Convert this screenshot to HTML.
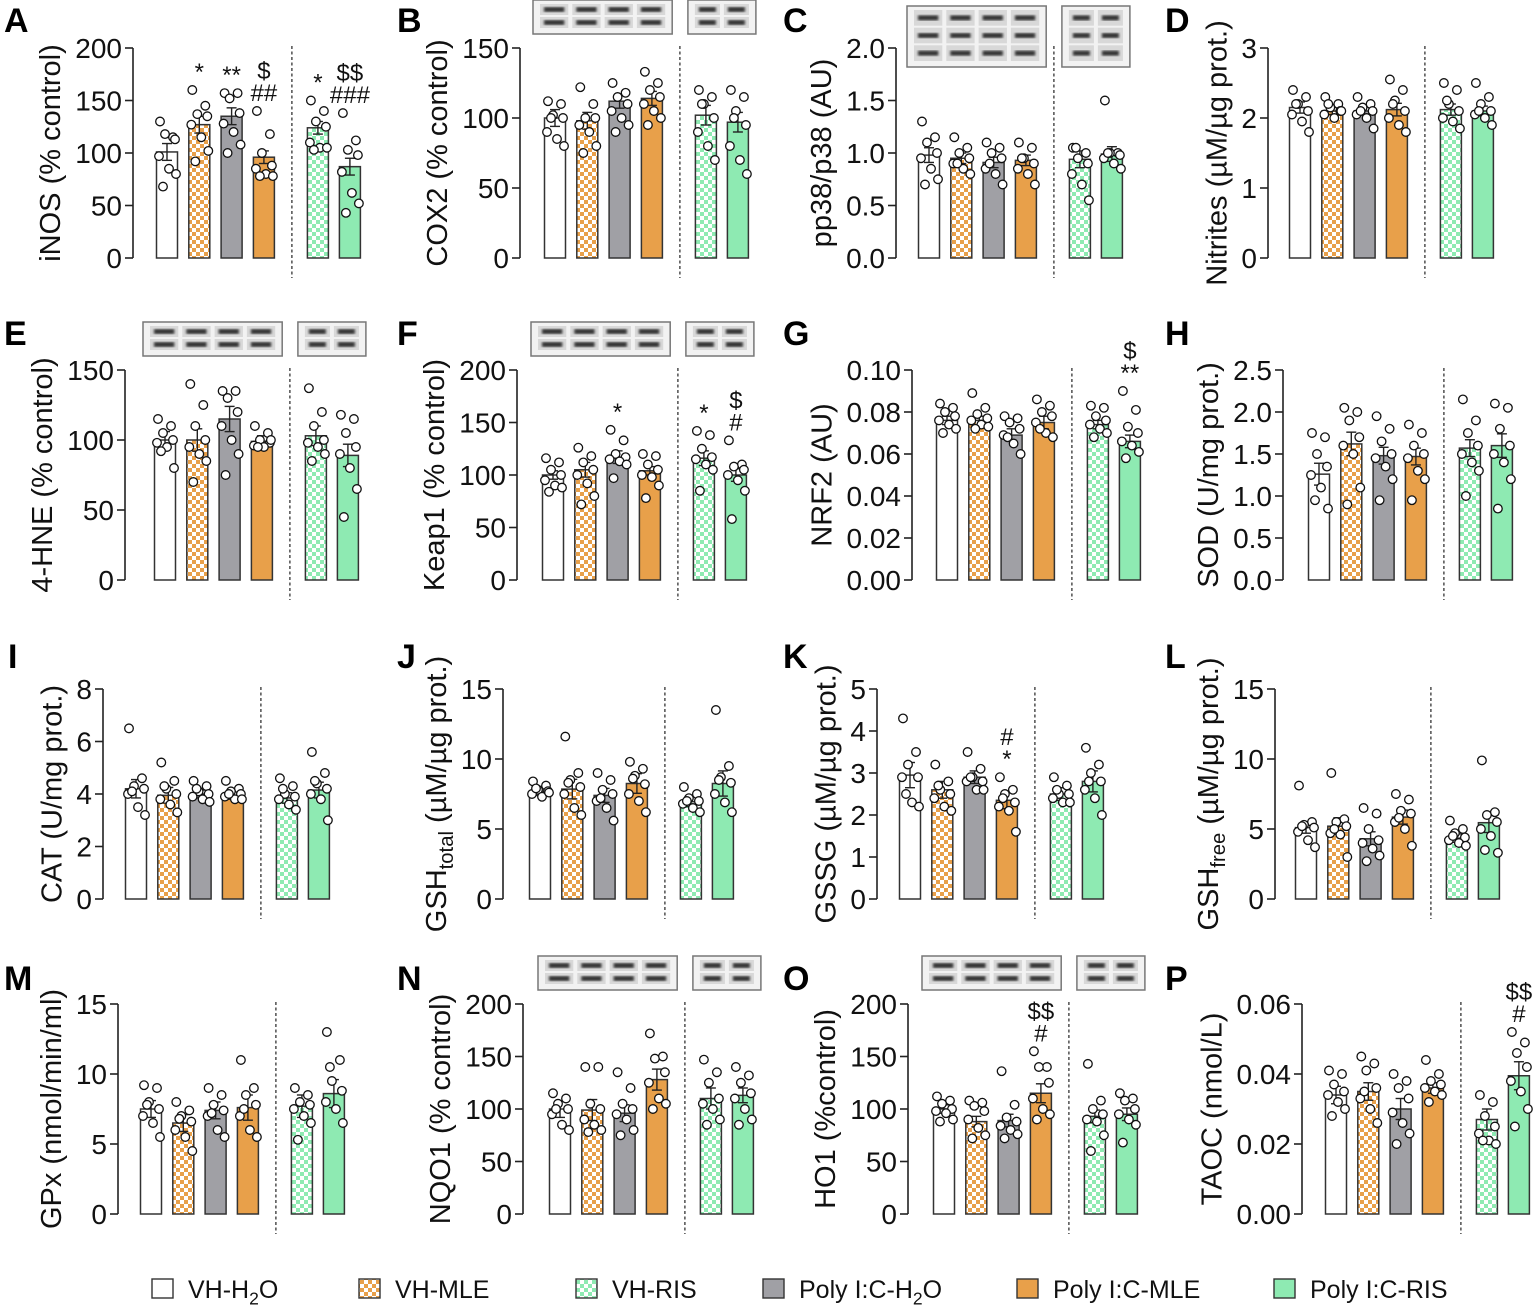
<!DOCTYPE html>
<html><head><meta charset="utf-8"><style>
html,body{margin:0;padding:0;background:#fff;}
svg{display:block;font-family:"Liberation Sans",Arial,sans-serif;}
</style></head><body>
<svg id="fig" width="1535" height="1308" viewBox="0 0 1535 1308" xmlns="http://www.w3.org/2000/svg">
<defs>
<pattern id="chkO" width="8" height="8" patternUnits="userSpaceOnUse"><rect width="8" height="8" fill="#fff"/><rect width="4" height="4" fill="#e8a04a"/><rect x="4" y="4" width="4" height="4" fill="#e8a04a"/></pattern>
<pattern id="chkG" width="8" height="8" patternUnits="userSpaceOnUse"><rect width="8" height="8" fill="#fff"/><rect width="4" height="4" fill="#8eeab2"/><rect x="4" y="4" width="4" height="4" fill="#8eeab2"/></pattern>
<filter id="blur"><feGaussianBlur stdDeviation="1.3"/></filter>
</defs>
<g id="panels"></g>
<g id="legend"></g>
</svg>
<script>
const NS='http://www.w3.org/2000/svg';
const groups=['VH-H2O','VH-MLE','Poly I:C-H2O','Poly I:C-MLE','VH-RIS','Poly I:C-RIS'];
const fills=['#ffffff','url(#chkO)','#a0a0a5','#e8a04a','url(#chkG)','#8eeab2'];

// ---- panel data ----
const letters=['A','B','C','D','E','F','G','H','I','J','K','L','M','N','O','P'];
const yLabels=['iNOS (% control)','COX2 (% control)','pp38/p38 (AU)','Nitrites (\u00b5M/\u00b5g prot.)','4-HNE (% control)','Keap1 (% control)','NRF2 (AU)','SOD (U/mg prot.)','CAT (U/mg prot.)','GSH|total| (\u00b5M/\u00b5g prot.)','GSSG (\u00b5M/\u00b5g prot.)','GSH|free| (\u00b5M/\u00b5g prot.)','GPx (nmol/min/ml)','NQO1 (% control)','HO1 (%control)','TAOC (nmol/L)'];
const tickLabels=[
['0','50','100','150','200'],['0','50','100','150'],['0.0','0.5','1.0','1.5','2.0'],['0','1','2','3'],
['0','50','100','150'],['0','50','100','150','200'],['0.00','0.02','0.04','0.06','0.08','0.10'],['0.0','0.5','1.0','1.5','2.0','2.5'],
['0','2','4','6','8'],['0','5','10','15'],['0','1','2','3','4','5'],['0','5','10','15'],
['0','5','10','15'],['0','50','100','150','200'],['0','50','100','150','200'],['0.00','0.02','0.04','0.06']];
const means=[
[101,127,135,96,124,87],[100,98,112,114,102,97],[0.98,0.95,0.91,0.93,0.94,0.99],[2.15,2.1,2.1,2.12,2.12,2.1],
[100,100,115,99,103,89],[100,105,117,104,116,100],[0.076,0.076,0.069,0.075,0.074,0.066],[1.26,1.62,1.48,1.47,1.57,1.6],
[4.2,3.95,4.0,3.95,3.85,4.15],[7.7,7.85,7.4,8.25,6.95,8.25],[2.95,2.6,2.9,2.35,2.5,2.8],[5.1,5.2,4.3,5.85,4.35,5.45],
[7.5,6.5,7.4,7.6,7.7,8.6],[100,99,96,128,110,113],[100,88,89,115,93,95],[0.034,0.035,0.030,0.036,0.027,0.0395]];
const sems=[
[8,8,8,6,6,8],[6,6,5,5,7,7],[0.07,0.05,0.05,0.05,0.08,0.07],[0.08,0.05,0.06,0.09,0.08,0.07],
[6,8,9,4,7,8],[4,7,6,4,7,6],[0.002,0.002,0.003,0.003,0.002,0.003],[0.13,0.14,0.1,0.1,0.1,0.14],
[0.35,0.3,0.15,0.15,0.2,0.3],[0.3,0.7,0.5,0.7,0.35,0.9],[0.3,0.2,0.15,0.2,0.15,0.25],[0.4,0.6,0.5,0.5,0.3,0.7],
[0.6,0.6,0.6,0.9,0.8,1.0],[8,10,8,10,10,7],[4,5,6,9,6,6],[0.0025,0.0025,0.003,0.0015,0.003,0.004]];
const points=[
[[130,115,118,113,97,85,80,68],[160,145,137,135,127,115,102,92],[157,157,152,138,128,120,108,100],[140,118,100,88,85,80,78,78],[150,140,130,125,110,105,105,103],[138,112,103,98,82,62,52,43]],
[[112,110,102,100,90,85,80,100],[122,110,100,100,95,90,80,75],[125,118,115,110,105,100,95,90],[133,125,120,115,110,105,100,95],[120,115,110,100,90,80,70,110],[120,115,105,95,80,70,60,100]],
[[1.3,1.15,1.1,1.0,0.95,0.85,0.75,0.7],[1.15,1.05,1.0,0.95,0.9,0.85,0.8,0.9],[1.1,1.05,1.0,0.95,0.85,0.8,0.7,0.9],[1.1,1.05,0.95,0.9,0.85,0.8,0.7,0.95],[1.05,1.0,0.95,0.9,0.8,0.7,0.55,1.05],[1.5,1.0,1.0,0.98,0.95,0.9,0.85,1.0]],
[[2.4,2.3,2.2,2.1,2.05,1.95,1.8,2.2],[2.3,2.2,2.15,2.1,2.05,2.0,2.1,2.2],[2.3,2.2,2.15,2.1,2.05,2.0,1.85,2.1],[2.55,2.4,2.25,2.1,2.0,1.9,1.8,2.2],[2.5,2.4,2.2,2.1,2.0,1.95,1.85,2.25],[2.5,2.3,2.2,2.1,2.05,2.0,1.9,2.1]],
[[115,110,105,100,98,95,80,92],[140,125,110,100,95,90,85,70],[135,135,130,120,110,100,90,75],[110,105,100,98,96,95,100,95],[137,120,110,100,98,95,90,85],[118,115,105,95,90,80,65,45]],
[[116,112,105,100,95,90,88,84],[126,118,112,105,100,92,80,72],[143,133,120,117,115,113,110,97],[120,118,110,105,100,98,90,78],[142,138,125,117,115,110,105,85],[133,110,108,105,100,95,85,58]],
[[0.084,0.082,0.08,0.078,0.076,0.074,0.072,0.07],[0.089,0.082,0.079,0.077,0.076,0.074,0.073,0.072],[0.078,0.077,0.075,0.072,0.069,0.065,0.06,0.068],[0.086,0.083,0.08,0.078,0.075,0.07,0.068,0.072],[0.083,0.082,0.078,0.076,0.074,0.072,0.07,0.068],[0.09,0.081,0.073,0.07,0.066,0.064,0.061,0.058]],
[[1.75,1.7,1.5,1.35,1.25,1.1,0.85,0.95],[2.05,2.0,1.9,1.7,1.6,1.5,1.1,0.9],[1.95,1.8,1.65,1.5,1.45,1.35,1.2,0.95],[1.85,1.75,1.6,1.5,1.45,1.3,1.2,0.95],[2.15,1.9,1.75,1.6,1.5,1.4,1.3,1.0],[2.1,2.05,1.8,1.6,1.5,1.4,1.2,0.85]],
[[6.5,4.6,4.3,4.2,4.0,3.5,3.2,4.1],[5.2,4.5,4.2,4.0,3.8,3.6,3.3,4.3],[4.5,4.3,4.1,4.0,3.9,3.8,3.7,4.2],[4.5,4.2,4.1,4.0,3.9,3.8,3.8,4.0],[4.6,4.3,4.0,3.9,3.8,3.6,3.4,4.2],[5.6,4.8,4.4,4.2,4.0,3.8,3.0,4.5]],
[[8.4,8.1,7.8,7.7,7.5,7.3,7.6,7.9],[11.6,9.0,8.5,8.0,7.5,6.5,6.0,8.3],[9.0,8.5,7.8,7.5,7.0,6.5,5.6,7.2],[9.8,9.3,8.8,8.2,7.5,7.0,6.2,8.6],[8.0,7.5,7.2,7.0,6.8,6.5,6.2,7.0],[13.5,9.5,8.7,8.3,7.5,6.9,6.2,8.5]],
[[4.3,3.5,3.2,2.9,2.9,2.3,2.2,2.5],[3.2,2.8,2.6,2.5,2.4,2.2,2.1,2.7],[3.5,3.1,2.9,2.8,2.8,2.6,2.6,2.9],[2.9,2.6,2.5,2.3,2.2,2.1,1.6,2.4],[2.9,2.7,2.5,2.5,2.4,2.3,2.3,2.6],[3.6,3.2,3.0,2.8,2.6,2.4,2.0,2.8]],
[[8.1,5.5,5.3,5.1,4.8,4.2,3.7,5.2],[9.0,5.7,5.5,5.2,4.7,4.6,3.0,5.0],[6.5,6.1,5.0,4.2,4.0,3.6,3.1,2.7],[7.5,7.1,6.3,6.1,5.5,5.0,3.8,5.8],[5.6,5.0,4.7,4.4,4.2,4.0,3.8,4.5],[9.9,6.2,6.0,5.5,5.0,4.5,3.3,3.5]],
[[9.2,9.0,8.0,7.5,7.0,6.5,5.5,7.8],[8.0,7.4,7.0,6.6,6.0,5.5,4.5,6.8],[9.0,8.5,7.8,7.4,7.0,6.0,5.5,7.2],[11.0,9.0,8.5,7.8,7.0,6.0,5.5,7.5],[9.0,8.5,8.0,7.8,7.5,7.0,6.5,5.3],[13.0,11.0,9.5,8.8,8.0,7.5,6.5,10.5]],
[[115,110,105,100,95,85,80,100],[140,140,105,100,90,85,80,78],[135,120,105,100,95,90,80,75],[172,150,148,135,125,110,105,100],[147,135,125,110,105,100,90,85],[140,132,125,115,110,100,90,85]],
[[112,108,105,100,98,96,90,88],[108,106,103,98,90,82,75,72],[136,104,92,88,84,80,76,72],[155,140,140,125,110,100,95,90],[143,108,100,95,90,88,75,60],[115,110,108,100,95,90,85,68]],
[[0.041,0.040,0.037,0.035,0.034,0.032,0.030,0.028],[0.045,0.043,0.041,0.036,0.033,0.030,0.026,0.035],[0.040,0.038,0.036,0.033,0.029,0.026,0.023,0.020],[0.044,0.040,0.038,0.037,0.036,0.035,0.034,0.032],[0.034,0.032,0.028,0.025,0.023,0.021,0.020,0.021],[0.052,0.049,0.046,0.042,0.038,0.035,0.030,0.025]]];
const annots=[
[[],['*'],['**'],['$','##'],['*'],['$$','###']],
[[],[],[],[],[],[]],[[],[],[],[],[],[]],[[],[],[],[],[],[]],
[[],[],[],[],[],[]],
[[],[],['*'],[],['*'],['$','#']],
[[],[],[],[],[],['$','**']],
[[],[],[],[],[],[]],[[],[],[],[],[],[]],[[],[],[],[],[],[]],
[[],[],[],['#','*'],[],[]],
[[],[],[],[],[],[]],[[],[],[],[],[],[]],[[],[],[],[],[],[]],
[[],[],[],['$$','#'],[],[]],
[[],[],[],[],[],['$$','#']]];
const blotPanels=['B','C','E','F','N','O'];

// ---- layout (pixels) ----
const axisXs=[133,520,896,1268, 125,517,912,1283, 103,503,877,1275, 118,523,908,1302];
const firstBar=[167,555,929,1300, 165,553,947,1319, 136,540,910,1306, 151,560,944,1336];
const rowY0=[258,580,899,1214];
const letterXY=[[4,32],[397,32],[783,32],[1165,32],[4,345],[397,345],[783,345],[1165,345],[8,668],[397,668],[783,668],[1165,668],[4,990],[397,990],[783,990],[1165,990]];
const jit=[-7,6,-2,8,-8,2,9,-4];
const PLOT_H=210, BW=21;

function mk(tag,attrs,parent){const e=document.createElementNS(NS,tag);for(const k in attrs)e.setAttribute(k,attrs[k]);if(parent)parent.appendChild(e);return e;}

function labelText(parent,x,y,str,size,extra){
  const t=mk('text',Object.assign({x:x,y:y,'font-size':size,fill:'#111'},extra||{}),parent);
  const parts=str.split('|');
  parts.forEach((p,i)=>{const s=mk('tspan',{},t);s.textContent=p;
    if(i%2===1){s.setAttribute('font-size',size*0.7);s.setAttribute('dy',size*0.25);}
    else if(i>0){s.setAttribute('dy',-size*0.25);}});
  return t;
}

const root=document.getElementById('panels');
for(let p=0;p<16;p++){
  const g=mk('g',{},root);
  
  
  const ax=axisXs[p], y0=rowY0[Math.floor(p/4)], ticks=tickLabels[p];
  const ymax=parseFloat(ticks[ticks.length-1]);
  const Y=v=>y0-v/ymax*PLOT_H;
  const bx=i=>i<4?firstBar[p]+i*32.3:firstBar[p]+3*32.3+54+(i-4)*32;
  const L=mk('text',{x:letterXY[p][0],y:letterXY[p][1],'font-size':34,'font-weight':'bold',fill:'#000'},g);
  L.textContent=letters[p];
  
  
  const axg=mk('g',{},g);
  
  
  mk('line',{x1:ax,y1:Y(0),x2:ax,y2:Y(ymax),stroke:'#222','stroke-width':1.6},axg);
  let maxw=0;
  ticks.forEach(tl=>{const v=parseFloat(tl);const yy=Y(v);
    mk('line',{x1:ax-8,y1:yy,x2:ax,y2:yy,stroke:'#222','stroke-width':1.6},axg);
    const t=mk('text',{x:ax-11,y:yy+10,'font-size':28,'text-anchor':'end',fill:'#111'},axg);t.textContent=tl;
    
    
    maxw=Math.max(maxw,tl.length*15.6-(tl.includes('.')?7.8:0));});
  const lx=ax-11-maxw-15, ly=y0-PLOT_H/2;
  const yl=labelText(axg,0,0,yLabels[p],29,{'text-anchor':'middle',transform:`translate(${lx},${ly}) rotate(-90)`});
  
  
  const dx=firstBar[p]+3*32.3+28;
  const sep=mk('line',{x1:dx,y1:Y(ymax)-2,x2:dx,y2:y0+20,stroke:'#333','stroke-width':1.3,'stroke-dasharray':'3,2.5'},g);
  
  
  for(let i=0;i<6;i++){
    const cx=bx(i), m=means[p][i], s=sems[p][i];
    const bg=mk('g',{},g);
    
    
    mk('rect',{x:cx-BW/2,y:Y(m),width:BW,height:y0-Y(m),fill:fills[i],stroke:'#333','stroke-width':1.5},bg);
    mk('line',{x1:cx,y1:Y(m-s),x2:cx,y2:Y(m+s),stroke:'#222','stroke-width':1.4},bg);
    mk('line',{x1:cx-5,y1:Y(m+s),x2:cx+5,y2:Y(m+s),stroke:'#222','stroke-width':1.4},bg);
    mk('line',{x1:cx-5,y1:Y(m-s),x2:cx+5,y2:Y(m-s),stroke:'#222','stroke-width':1.4},bg);
    let top=Y(m+s);
    points[p][i].forEach((v,k)=>{
      const c=mk('circle',{cx:cx+jit[k],cy:Y(v),r:4.3,fill:'#fff',stroke:'#111','stroke-width':1.3},bg);
      
      
      top=Math.min(top,Y(v));});
    const an=annots[p][i];
    for(let k=an.length-1,j=0;k>=0;k--,j++){
      const t=mk('text',{x:cx,y:top-10-j*22,'font-size':24,'text-anchor':'middle',fill:'#111'},bg);
      t.textContent=an[k];
      
      
    }
  }
  if(blotPanels.includes(letters[p])){
    const tall=letters[p]==='C';
    const by=tall?6:Y(ymax)-48, bh=tall?61:34;
    const bl=mk('g',{},g);
    
    
    [[firstBar[p]-22,4*32.3+10,4],[bx(4)-18,68,2]].forEach(([x,w,n])=>{
      mk('rect',{x:x,y:by,width:w,height:bh,fill:'#f2f2f2',stroke:'#777','stroke-width':1.5},bl);
      const rows=tall?3:2;
      for(let r=0;r<rows;r++)for(let l=0;l<n;l++){
        const lw=(w-10)/n;
        mk('rect',{x:x+5+l*lw+2,y:by+4+r*(bh-8)/rows,width:lw-4,height:(bh-8)/rows-2,fill:'#d8d8d8'},bl);
        mk('rect',{x:x+5+l*lw+6,y:by+4+r*(bh-8)/rows+(bh-8)/rows/2-3.5,width:lw-12,height:5,fill:'#333',filter:'url(#blur)'},bl);
      }
    });
  }
}
const leg=document.getElementById('legend');
const legX=[152,359,576,763,1017,1274];
const legOrder=[0,1,4,2,3,5];
const legText=['VH-H|2|O','VH-MLE','VH-RIS','Poly I:C-H|2|O','Poly I:C-MLE','Poly I:C-RIS'];
legOrder.forEach((gi,k)=>{
  const e=mk('g',{},leg);
  
  
  mk('rect',{x:legX[k],y:1279,width:21,height:19,fill:fills[gi],stroke:'#333','stroke-width':1.4},e);
  labelText(e,legX[k]+36,1298,legText[k],25);
});
</script>
</body></html>
